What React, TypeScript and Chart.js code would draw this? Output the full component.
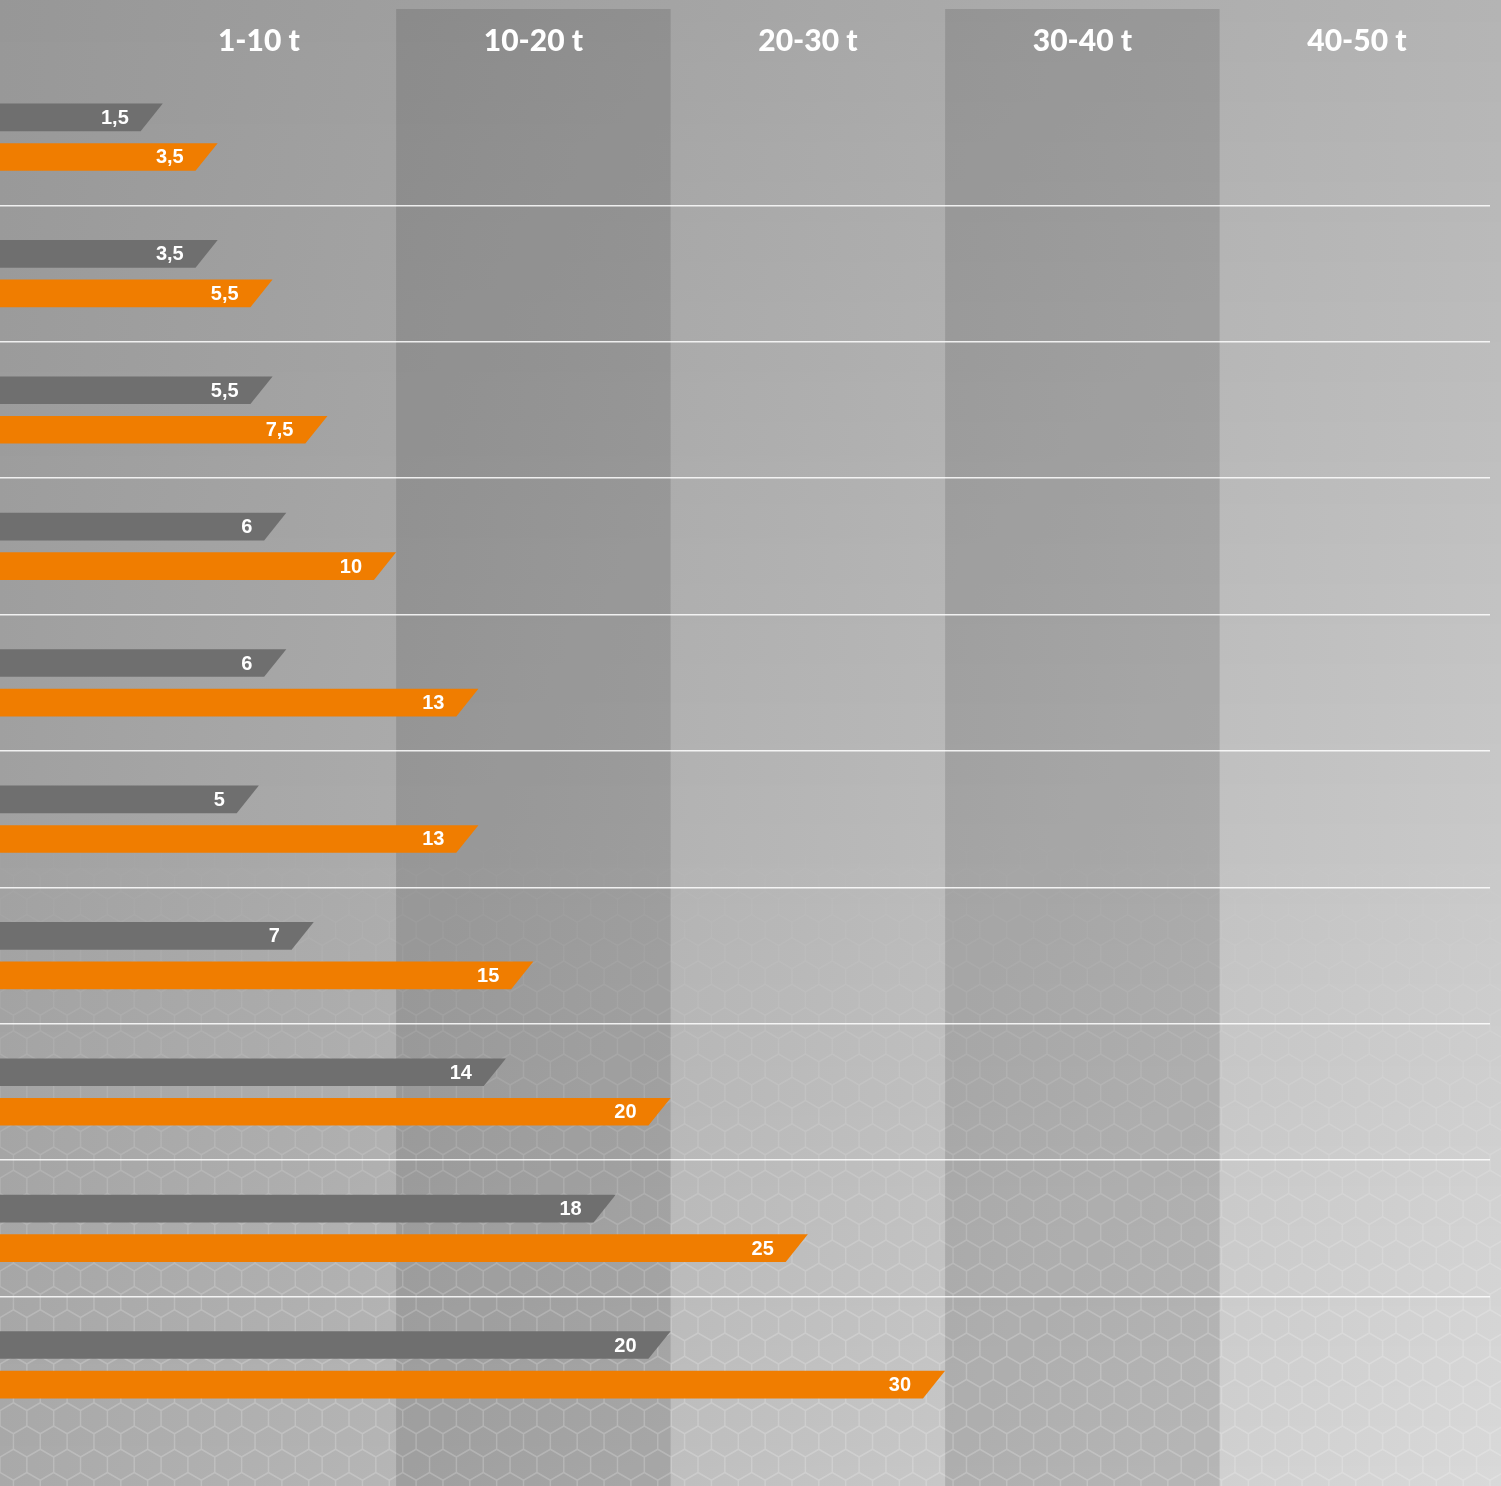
import { useEffect, useRef } from 'react'
import { Chart, registerables } from 'chart.js'

Chart.register(...registerables)

// one row per weight class comparison (no visible row names in the picture)
const CATEGORIES = ['1', '2', '3', '4', '5', '6', '7', '8', '9', '10']
const GREY_VALUES = [1.5, 3.5, 5.5, 6, 6, 5, 7, 14, 18, 20]
const ORANGE_VALUES = [3.5, 5.5, 7.5, 10, 13, 13, 15, 20, 25, 30]

// column headers sit in the middle of each 10 t column
const HEADER_TICKS = [5, 15, 25, 35, 45]
const HEADER_LABELS = ['1-10 t', '10-20 t', '20-30 t', '30-40 t', '40-50 t']
const SHADED_COLUMNS = [[10, 20], [30, 40]]

const X_MIN = -4.43
const X_MAX = 49.85

const GREY = '#6f6f6f'
const ORANGE = '#f07d00'

const formatValue = (v: number) => String(v).replace('.', ',')

const backgroundPlugin = {
  id: 'panelBackground',
  beforeDraw(chart: any) {
    const { ctx, width, height } = chart
    const xScale = chart.scales.x
    ctx.save()

    // grey gradient, lighter towards the bottom right
    const step = 2
    for (let y = 0; y < height; y += step) {
      const t = y / height
      const left = 151 + (169 - 151) * t
      const right = 180 + (217 - 180) * t
      const g = ctx.createLinearGradient(0, 0, width, 0)
      g.addColorStop(0, `rgb(${left},${left},${left})`)
      g.addColorStop(1, `rgb(${right},${right},${right})`)
      ctx.fillStyle = g
      ctx.fillRect(0, y, width, step)
    }

    // darker columns
    ctx.fillStyle = 'rgba(0,0,0,0.12)'
    SHADED_COLUMNS.forEach(([a, b]) => {
      const x0 = xScale.getPixelForValue(a)
      const x1 = xScale.getPixelForValue(b)
      ctx.fillRect(x0, 9, x1 - x0, height - 9)
    })

    // honeycomb texture fading in towards the bottom
    const off = document.createElement('canvas')
    off.width = width
    off.height = height
    const octx = off.getContext('2d')
    if (octx) {
      const r = 15.5
      const w = Math.sqrt(3) * r
      const rowH = 1.5 * r
      octx.beginPath()
      for (let row = -1; row * rowH < height + r; row++) {
        const cy = row * rowH
        const shift = row % 2 === 0 ? 0 : w / 2
        for (let cx = -w + shift; cx < width + w; cx += w) {
          for (let k = 0; k < 6; k++) {
            const ang = Math.PI / 6 + (k * Math.PI) / 3
            const px = cx + r * Math.cos(ang)
            const py = cy + r * Math.sin(ang)
            if (k === 0) octx.moveTo(px, py)
            else octx.lineTo(px, py)
          }
          octx.closePath()
        }
      }
      octx.strokeStyle = 'rgba(255,255,255,0.2)'
      octx.lineWidth = 1.5
      octx.stroke()
      octx.globalCompositeOperation = 'destination-in'
      const mask = octx.createLinearGradient(0, 820, 0, 1350)
      mask.addColorStop(0, 'rgba(0,0,0,0)')
      mask.addColorStop(1, 'rgba(0,0,0,1)')
      octx.fillStyle = mask
      octx.fillRect(0, 0, width, height)
      ctx.drawImage(off, 0, 0, width, height)
    }
    ctx.restore()
  }
}

// bars with a slanted right end and the value written inside
const slantedBarsPlugin = {
  id: 'slantedBars',
  beforeDatasetDraw(chart: any, args: any) {
    const { ctx } = chart
    const meta = args.meta
    const color = chart.data.datasets[args.index].backgroundColor
    const values = chart.data.datasets[args.index].data
    ctx.save()
    meta.data.forEach((el: any, i: number) => {
      const { x, y, base, height } = el.getProps(['x', 'y', 'base', 'height'], true)
      const top = y - height / 2
      const bottom = y + height / 2
      const slant = height * 0.8
      ctx.beginPath()
      ctx.moveTo(base, top)
      ctx.lineTo(x, top)
      ctx.lineTo(x - slant, bottom)
      ctx.lineTo(base, bottom)
      ctx.closePath()
      ctx.fillStyle = color
      ctx.fill()

      ctx.fillStyle = '#ffffff'
      ctx.font = "bold 20px 'Liberation Sans', Arial, sans-serif"
      ctx.textAlign = 'right'
      ctx.textBaseline = 'middle'
      ctx.fillText(formatValue(values[i]), x - 34, y + 1)
    })
    ctx.restore()
    return false
  }
}

export default function App() {
  const canvasRef = useRef<HTMLCanvasElement>(null)
  const chartRef = useRef<Chart | null>(null)

  useEffect(() => {
    document.body.style.margin = '0'
    if (!canvasRef.current) return
    const ctx = canvasRef.current.getContext('2d')
    if (!ctx) return

    if (chartRef.current) {
      chartRef.current.destroy()
    }

    chartRef.current = new Chart(ctx, {
      type: 'bar',
      data: {
        labels: CATEGORIES,
        datasets: [
          {
            label: 'grau',
            data: GREY_VALUES,
            backgroundColor: GREY,
            base: X_MIN,
            borderWidth: 0
          } as any,
          {
            label: 'orange',
            data: ORANGE_VALUES,
            backgroundColor: ORANGE,
            base: X_MIN,
            borderWidth: 0
          } as any
        ]
      },
      options: {
        indexAxis: 'y',
        responsive: true,
        maintainAspectRatio: false,
        animation: false,
        categoryPercentage: 0.58,
        barPercentage: 0.7,
        layout: {
          padding: { left: 0, right: 11, top: 0, bottom: 53 }
        },
        plugins: {
          legend: { display: false },
          tooltip: { enabled: false }
        },
        scales: {
          x: {
            type: 'linear',
            position: 'top',
            min: X_MIN,
            max: X_MAX,
            grid: { display: false },
            border: { display: false },
            afterBuildTicks: (axis: any) => {
              axis.ticks = HEADER_TICKS.map(v => ({ value: v }))
            },
            afterFit: (axis: any) => {
              axis.height = 69
            },
            ticks: {
              autoSkip: false,
              maxRotation: 0,
              padding: 2,
              color: '#ffffff',
              font: { family: 'Lato', size: 30, weight: 900 },
              callback: (_value: any, index: number) => HEADER_LABELS[index]
            }
          },
          y: {
            type: 'category',
            border: { display: false },
            afterFit: (axis: any) => {
              axis.width = 0
            },
            ticks: { display: false },
            grid: {
              offset: true,
              drawTicks: false,
              lineWidth: 1.5,
              color: (c: any) =>
                c.type === 'tick' && c.index > 0 ? 'rgba(255,255,255,0.85)' : 'rgba(0,0,0,0)'
            }
          }
        }
      },
      plugins: [backgroundPlugin, slantedBarsPlugin]
    })

    return () => {
      if (chartRef.current) {
        chartRef.current.destroy()
        chartRef.current = null
      }
    }
  }, [])

  return (
    <div style={{ position: 'relative', width: '1501px', height: '1486px' }}>
      <canvas ref={canvasRef}></canvas>
    </div>
  )
}
